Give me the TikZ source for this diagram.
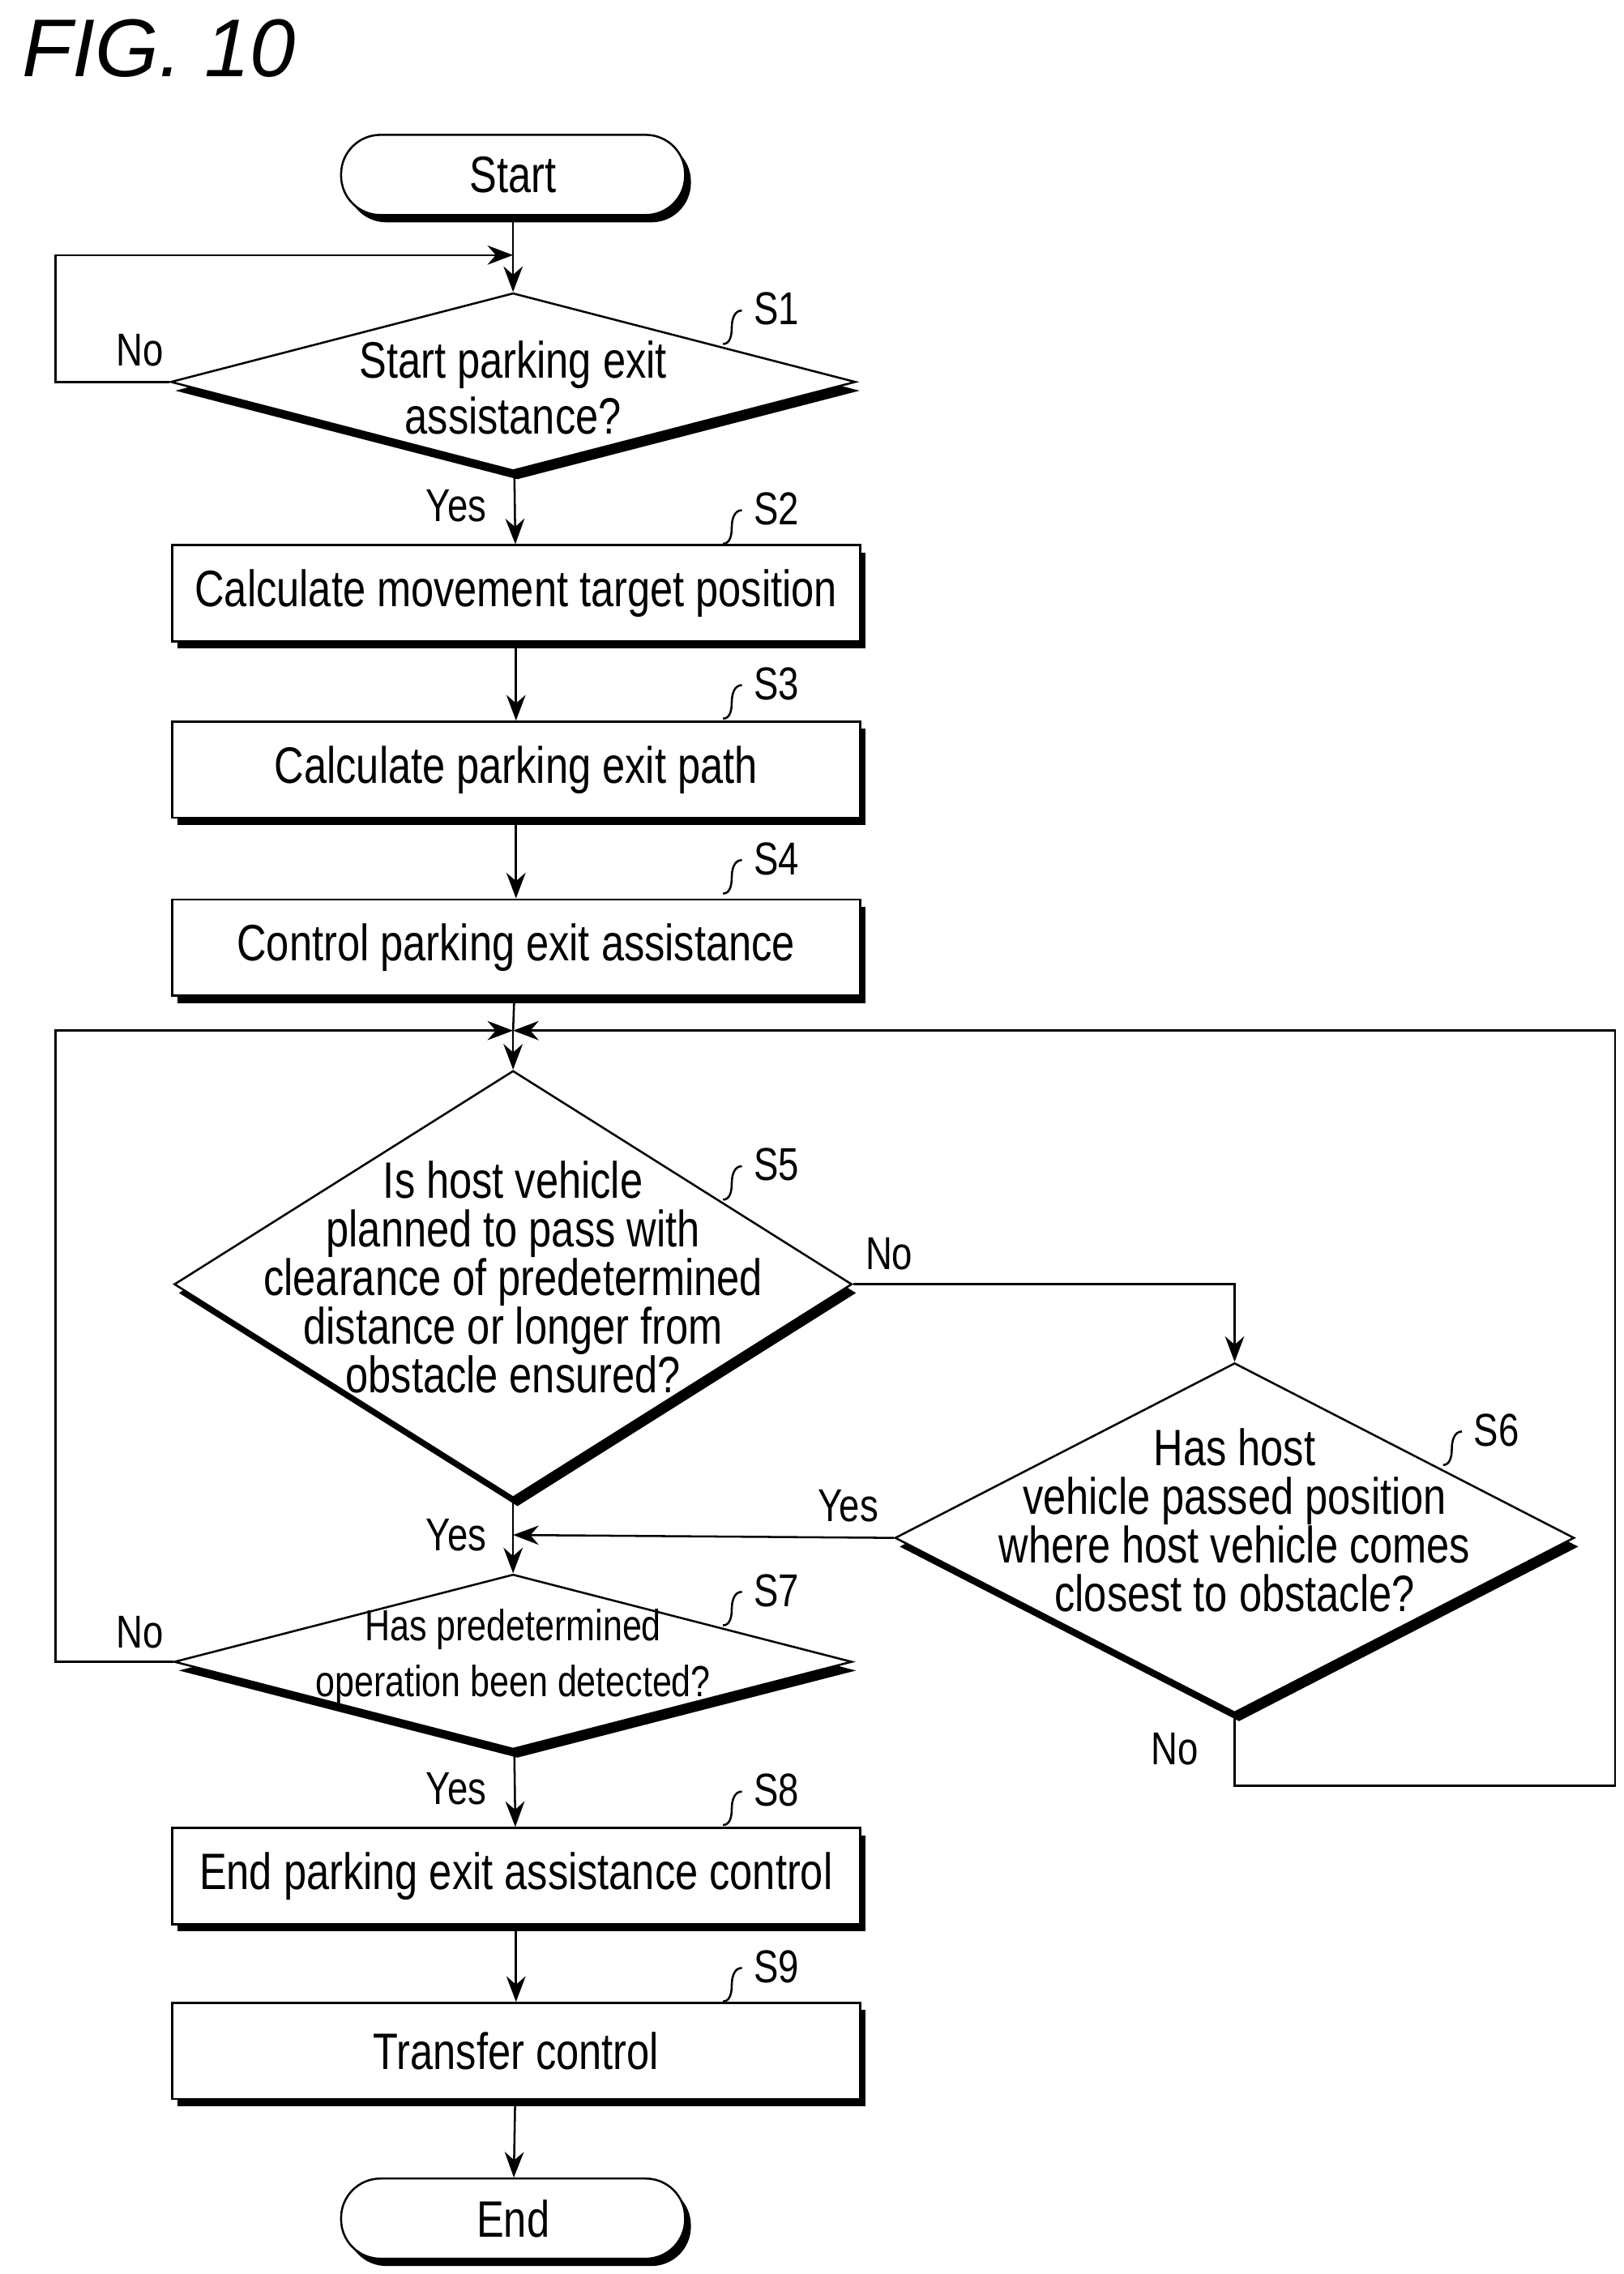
\documentclass[tikz,border=0pt]{standalone}
\usepackage{fontspec}
\setmainfont{Liberation Sans}[FakeStretch=0.8]
\usetikzlibrary{shapes.geometric,shadows,arrows.meta}
\def\u{0.02cm}
\tikzset{
  box/.style={draw, thick, fill=white, minimum width=472*\u, minimum height=66*\u,
    drop shadow={shadow xshift=4*\u, shadow yshift=-5*\u, fill=black, opacity=1}},
  term/.style={box, rounded corners=27*\u, minimum width=236*\u, minimum height=55*\u},
  dec/.style={draw, thick, diamond, fill=white, inner sep=0pt, aspect=2,
    drop shadow={shadow xshift=3*\u, shadow yshift=-6*\u, fill=black, opacity=1}},
  txt/.style={align=center},
  flow/.style={thick, -{Stealth[length=10pt]}},
  lbl/.style={font=\fontsize{18}{20}\selectfont},
}
\newcommand\steplabel[2]{%
  \draw[thick] (#1) to[out=0,in=-90] ++(6,-11) to[out=90,in=180] ++(7,-12);
  \node[lbl, anchor=west] at ($(#1)+(14,-24)$) {#2};}
\usetikzlibrary{calc}
\begin{document}
\begin{tikzpicture}[x=\u, y=-\u, line width=1.6pt, font=\fontsize{20}{22}\selectfont]
\useasboundingbox (0,0) rectangle (1114,1560);
\node[anchor=west, font=\fontsize{32}{34}\selectfont\addfontfeature{FakeStretch=1.0}\itshape] (fig) at (8,33) {FIG. 10};

\node[term] (start) at (352,120) {Start};
\node[dec, minimum width=470*\u, minimum height=122*\u] (s1) at (352,262) {};
\node[txt] (t1) at (352,266) {Start parking exit\\assistance?};
\node[box] (s2) at (354,407) {Calculate movement target position};
\node[box] (s3) at (354,528) {Calculate parking exit path};
\node[box] (s4) at (354,650) {Control parking exit assistance};
\coordinate (m) at (352,707);
\node[dec, minimum width=465*\u, minimum height=293*\u] (s5) at (352,881) {};
\node[txt, font=\fontsize{20}{19}\selectfont] (t5) at (352,876) {Is host vehicle\\planned to pass with\\clearance of predetermined\\distance or longer from\\obstacle ensured?};
\node[dec, minimum width=466*\u, minimum height=240*\u] (s6) at (847,1055) {};
\node[txt, font=\fontsize{20}{19}\selectfont] (t6) at (847,1043) {Has host\\vehicle passed position\\where host vehicle comes\\closest to obstacle?};
\node[dec, minimum width=465*\u, minimum height=120*\u] (s7) at (352,1140) {};
\node[txt, font=\fontsize{17}{22}\selectfont] (t7) at (352,1137) {Has predetermined\\operation been detected?};
\node[box] (s8) at (354,1287) {End parking exit assistance control};
\node[box] (s9) at (354,1407) {Transfer control};
\node[term] (end) at (352,1522) {End};

% main line
\draw[flow] (start) -- (s1);
\draw[flow] (s1) -- (s2);
\draw[flow] (s2) -- (s3);
\draw[flow] (s3) -- (s4);
\draw[thick] (s4) -- (m);
\draw[flow] (m) -- (s5);
\draw[flow] (s5) -- (s7);
\draw[flow] (s7) -- (s8);
\draw[flow] (s8) -- (s9);
\draw[flow] (s9) -- (end);

% loops
\draw[flow] (s1.west) -- (38,262) -- (38,175) -- (352,175);
\draw[flow] (s5.east) -| (s6.north);
\draw[flow] (s6.west) -- (352,1053);
\draw[flow] (s6.south) -- (847,1225) -- (1108,1225) -- (1108,707) -- (m);
\draw[flow] (s7.west) -- (38,1140) -- (38,707) -- (m);

\node[lbl] (n1) at (96,240) {No};
\node[lbl] (y1) at (313,347) {Yes};
\node[lbl] (n5) at (610,860) {No};
\node[lbl] (y6) at (582,1033) {Yes};
\node[lbl] (y5) at (313,1053) {Yes};
\node[lbl] (n6) at (806,1200) {No};
\node[lbl] (n7) at (96,1120) {No};
\node[lbl] (y7) at (313,1227) {Yes};

\coordinate (l1) at (496,236);   \steplabel{l1}{S1}
\coordinate (l2) at (496,373);   \steplabel{l2}{S2}
\coordinate (l3) at (496,493);   \steplabel{l3}{S3}
\coordinate (l4) at (496,613);   \steplabel{l4}{S4}
\coordinate (l5) at (496,823);   \steplabel{l5}{S5}
\coordinate (l6) at (990,1005);  \steplabel{l6}{S6}
\coordinate (l7) at (496,1115);  \steplabel{l7}{S7}
\coordinate (l8) at (496,1252);  \steplabel{l8}{S8}
\coordinate (l9) at (496,1373);  \steplabel{l9}{S9}
\end{tikzpicture}
\end{document}
